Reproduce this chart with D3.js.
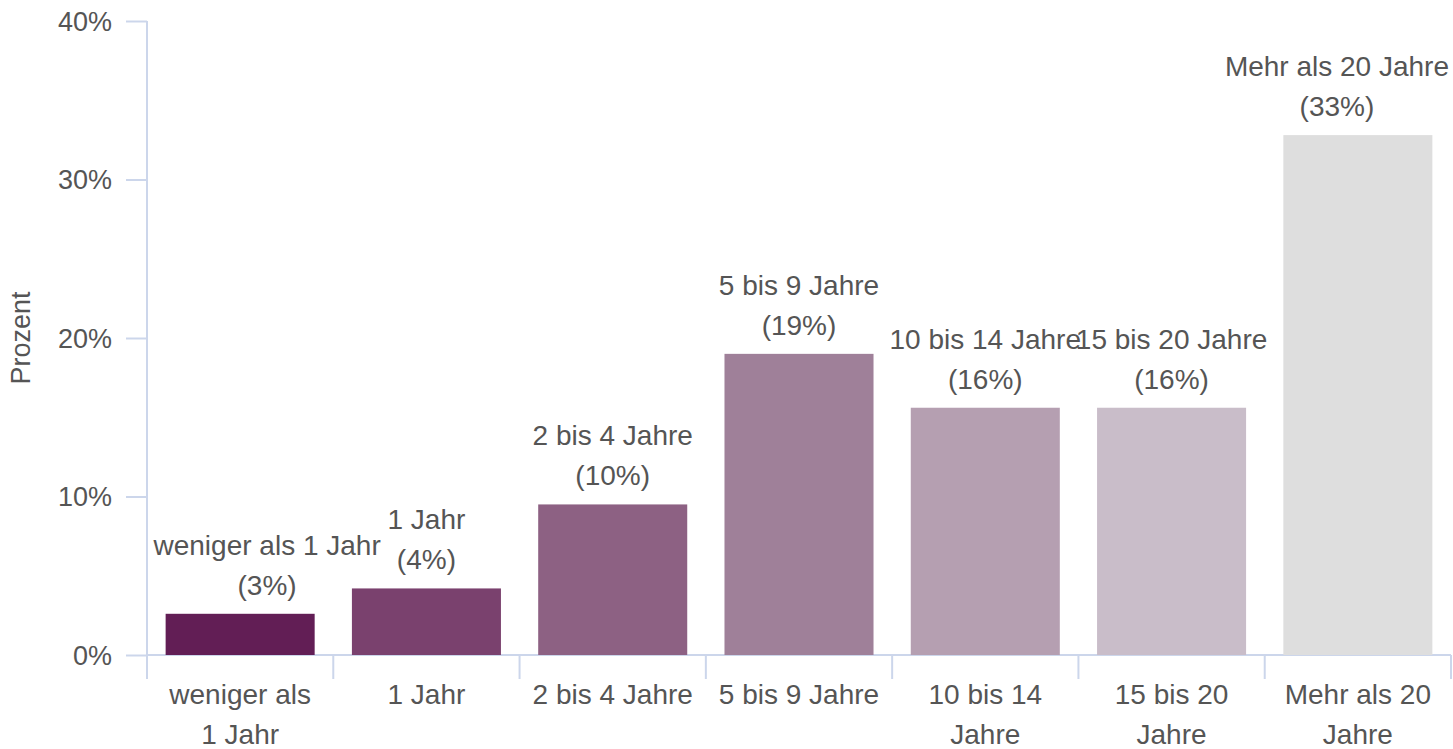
<!DOCTYPE html>
<html>
<head>
<meta charset="utf-8">
<script src="https://cdn.jsdelivr.net/npm/d3@7"></script>
<style>
  body { margin: 0; background: #fff; }
  text { font-family: "Liberation Sans", Arial, sans-serif; }
</style>
</head>
<body>
<div id="chart"></div>
<script>
// Kategorien und Werte (Prozent)
var categories = ["weniger als 1 Jahr", "1 Jahr", "2 bis 4 Jahre", "5 bis 9 Jahre", "10 bis 14 Jahre", "15 bis 20 Jahre", "Mehr als 20 Jahre"];
var values = [2.6, 4.2, 9.5, 19.0, 15.6, 15.6, 32.8];
var valueLabels = ["3%", "4%", "10%", "19%", "16%", "16%", "33%"];
var tickLabels = [["weniger als", "1 Jahr"], ["1 Jahr"], ["2 bis 4 Jahre"], ["5 bis 9 Jahre"], ["10 bis 14", "Jahre"], ["15 bis 20", "Jahre"], ["Mehr als 20", "Jahre"]];
var barColors = ["#621e55", "#7a416e", "#8d6183", "#9f8099", "#b59fb1", "#c9bdc9", "#dedede"];
var yTicks = [0, 10, 20, 30, 40];

var width = 1453, height = 749;
var mLeft = 147, mRight = 1451, mTop = 21, mBottom = 655;
var axisColor = "#ccd6eb", textColor = "#555";

var svg = d3.select("#chart").append("svg")
    .attr("width", width)
    .attr("height", height);

var x = d3.scaleBand()
    .domain(categories)
    .range([mLeft, mRight])
    .paddingInner(0.2)
    .paddingOuter(0.1);

var y = d3.scaleLinear()
    .domain([0, 40])
    .range([mBottom, mTop]);

// y-Achse
var yAxis = svg.append("g")
    .attr("transform", "translate(" + mLeft + ",0)")
    .call(d3.axisLeft(y).tickValues(yTicks).tickSize(21).tickPadding(14).tickFormat(d => d + "%"));
yAxis.select(".domain").remove();
yAxis.selectAll(".tick line").attr("stroke", axisColor).attr("stroke-width", 2);
yAxis.selectAll(".tick text")
    .attr("fill", textColor)
    .style("font-size", "27px")
    .attr("dy", "0.35em");

svg.append("line")
    .attr("x1", mLeft).attr("x2", mLeft)
    .attr("y1", mTop).attr("y2", mBottom + 24)
    .attr("stroke", axisColor).attr("stroke-width", 2);

svg.append("text")
    .attr("transform", "translate(30," + ((mTop + mBottom) / 2) + ") rotate(-90)")
    .attr("text-anchor", "middle")
    .attr("fill", textColor)
    .style("font-size", "27px")
    .text("Prozent");

// x-Achse
svg.append("line")
    .attr("x1", mLeft).attr("x2", mRight)
    .attr("y1", mBottom).attr("y2", mBottom)
    .attr("stroke", axisColor).attr("stroke-width", 2);

var step = x.step();
var bounds = d3.range(categories.length + 1).map(i => mLeft + i * step);
svg.selectAll(".xtick").data(bounds).enter().append("line")
    .attr("class", "xtick")
    .attr("x1", d => d).attr("x2", d => d)
    .attr("y1", mBottom).attr("y2", mBottom + 24)
    .attr("stroke", axisColor).attr("stroke-width", 2);

var xLabels = svg.selectAll(".xlabel").data(categories).enter().append("text")
    .attr("class", "xlabel")
    .attr("text-anchor", "middle")
    .attr("fill", textColor)
    .style("font-size", "28px");
xLabels.each(function(d, i) {
    var t = d3.select(this);
    tickLabels[i].forEach(function(line, j) {
        t.append("tspan")
            .attr("x", x(d) + x.bandwidth() / 2)
            .attr("y", 704 + j * 40)
            .text(line);
    });
});

// Balken
svg.selectAll(".bar").data(categories).enter().append("rect")
    .attr("class", "bar")
    .attr("x", d => x(d))
    .attr("y", (d, i) => y(values[i]))
    .attr("width", x.bandwidth())
    .attr("height", (d, i) => y(0) - y(values[i]))
    .attr("fill", (d, i) => barColors[i]);

// Datenbeschriftung (innerhalb der Plotfläche gehalten)
var labels = svg.selectAll(".dlabel").data(categories).enter().append("text")
    .attr("class", "dlabel")
    .attr("text-anchor", "middle")
    .attr("fill", textColor)
    .style("font-size", "28px");
labels.each(function(d, i) {
    var t = d3.select(this);
    var cx = x(d) + x.bandwidth() / 2;
    var l1 = t.append("tspan").attr("x", cx).attr("y", y(values[i]) - 59).text(d);
    var l2 = t.append("tspan").attr("x", cx).attr("y", y(values[i]) - 19).text("(" + valueLabels[i] + ")");
    var w = this.getBBox().width;
    var shift = 0;
    if (cx - w / 2 < mLeft + 6) shift = mLeft + 6 - (cx - w / 2);
    if (cx + w / 2 > mRight - 2) shift = (mRight - 2) - (cx + w / 2);
    l1.attr("x", cx + shift);
    l2.attr("x", cx + shift);
});
</script>
</body>
</html>
